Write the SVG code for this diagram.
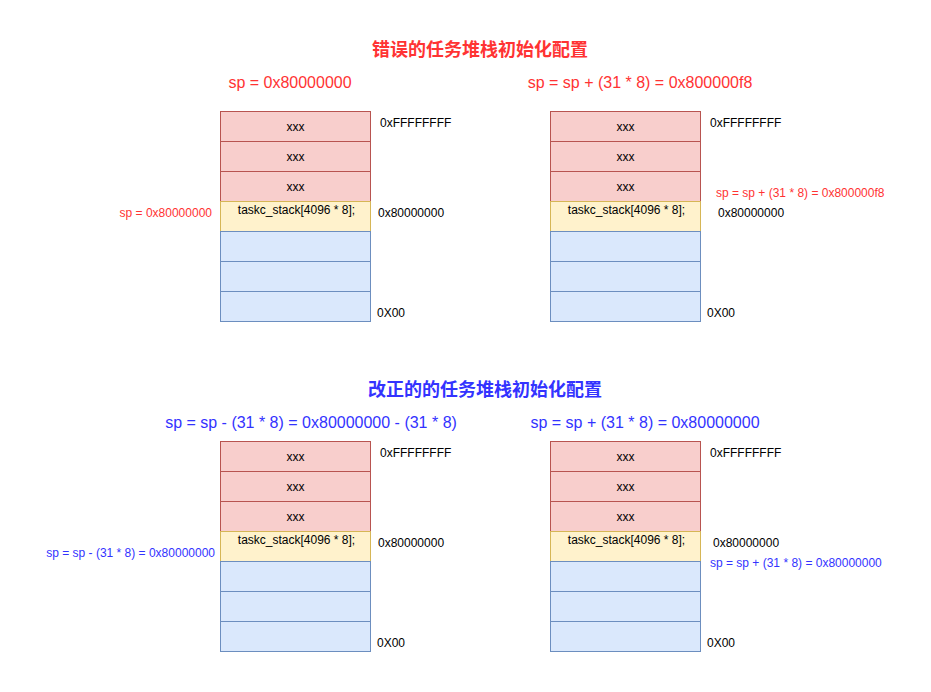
<svg xmlns="http://www.w3.org/2000/svg" width="931" height="692" viewBox="0 0 931 692">
<style>
text{font-family:"Liberation Sans","Noto Sans CJK SC",Arial,sans-serif;}
.r{fill:#f8cecc;stroke:#b85450;stroke-width:1}
.y{fill:#fff2cc;stroke:#d6b656;stroke-width:1}
.b{fill:#dae8fc;stroke:#6c8ebf;stroke-width:1}
.c{font-size:12px;fill:#000;text-anchor:middle}
.l{font-size:12px;fill:#000}
.title{font-size:18px;font-weight:bold;text-anchor:middle}
.h{font-size:16px;text-anchor:middle}
.red{fill:#FF3333}
.blue{fill:#3333FF}
</style>
<defs>
<g id="stack">
<rect class="r" x="0" y="0" width="150" height="30"/>
<rect class="r" x="0" y="30" width="150" height="30"/>
<rect class="r" x="0" y="60" width="150" height="30"/>
<rect class="y" x="0" y="90" width="150" height="30"/>
<rect class="b" x="0" y="120" width="150" height="30"/>
<rect class="b" x="0" y="150" width="150" height="30"/>
<rect class="b" x="0" y="180" width="150" height="30"/>
<text class="c" x="75" y="19.5">xxx</text>
<text class="c" x="75" y="49.5">xxx</text>
<text class="c" x="75" y="79.5">xxx</text>
<text class="c" x="76" y="102">taskc_stack[4096 * 8];</text>
</g>
</defs>
<text class="title red" x="480" y="56">错误的任务堆栈初始化配置</text>
<text class="h red" x="290" y="88">sp = 0x80000000</text>
<text class="h red" x="640" y="88">sp = sp + (31 * 8) = 0x800000f8</text>
<g id="stack-wrong-1">
<use href="#stack" x="220.5" y="111.5"/>
<text class="l" x="380" y="127">0xFFFFFFFF</text>
<text class="l" x="378" y="217">0x80000000</text>
<text class="l" x="377" y="317">0X00</text>
<text class="l red" x="212" y="217" text-anchor="end">sp = 0x80000000</text>
</g>
<g id="stack-wrong-2">
<use href="#stack" x="550.5" y="111.5"/>
<text class="l" x="710" y="127">0xFFFFFFFF</text>
<text class="l red" x="716" y="197">sp = sp + (31 * 8) = 0x800000f8</text>
<text class="l" x="718" y="217">0x80000000</text>
<text class="l" x="707" y="317">0X00</text>
</g>
<text class="title blue" x="485" y="396">改正的的任务堆栈初始化配置</text>
<text class="h blue" x="311" y="428">sp = sp - (31 * 8) = 0x80000000 - (31 * 8)</text>
<text class="h blue" x="645" y="428">sp = sp + (31 * 8) = 0x80000000</text>
<g id="stack-fixed-1">
<use href="#stack" x="220.5" y="441.5"/>
<text class="l" x="380" y="457">0xFFFFFFFF</text>
<text class="l" x="378" y="547">0x80000000</text>
<text class="l" x="377" y="647">0X00</text>
<text class="l blue" x="215" y="557" text-anchor="end">sp = sp - (31 * 8) = 0x80000000</text>
</g>
<g id="stack-fixed-2">
<use href="#stack" x="550.5" y="441.5"/>
<text class="l" x="710" y="457">0xFFFFFFFF</text>
<text class="l" x="713" y="547">0x80000000</text>
<text class="l blue" x="710" y="567">sp = sp + (31 * 8) = 0x80000000</text>
<text class="l" x="707" y="647">0X00</text>
</g>
<g id="connectors"/>
</svg>
